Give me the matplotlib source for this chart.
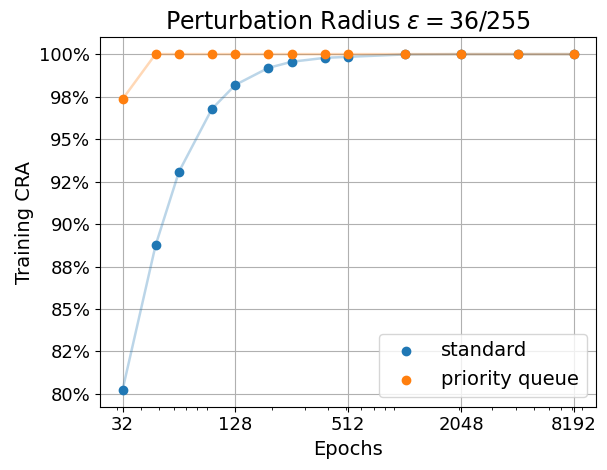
#!/usr/bin/env python3
# -*- coding: utf-8 -*-

import matplotlib
matplotlib.use('Agg')
import matplotlib.pyplot as plt
import matplotlib.ticker as ptick

# epochs (x) and training CRA (fraction)
epochs = [32, 48, 64, 96, 128, 192, 256, 384, 512, 1024, 2048, 4096, 8192]
cra_standard = [0.8024, 0.8874, 0.9308, 0.9678, 0.9819, 0.9919, 0.9955, 0.9978, 0.9984, 0.9998, 1.0, 1.0, 1.0]
cra_pq = [0.9735, 1.0, 1.0, 1.0, 1.0, 1.0, 1.0, 1.0, 1.0, 1.0, 1.0, 1.0, 1.0]
xtick_vals = [32, 128, 512, 2048, 8192]

series = [('standard', cra_standard, 'tab:blue'),
		  ('priority queue', cra_pq, 'tab:orange')]


def main():
	fig = plt.figure(figsize=(6.07, 4.70), dpi=100)
	ax1 = fig.add_subplot(1, 1, 1)
	fig.subplots_adjust(left=0.1647, right=0.9827, top=0.9206, bottom=0.1347)

	for lbl, vals, col in series:
		ax1.plot(epochs, vals, color=col, alpha=0.3, lw=1.8)
		ax1.scatter(epochs, vals, color=col, label=lbl, zorder=3)

	# log10 scale, majors replaced by fixed ticks (minor ticks stay)
	ax1.set_xscale('log')
	ax1.set_xticks(xtick_vals, [str(v) for v in xtick_vals])
	ax1.yaxis.set_major_locator(ptick.MultipleLocator(0.025))
	ax1.yaxis.set_major_formatter(ptick.PercentFormatter(xmax=1, decimals=0))
	ax1.tick_params(labelsize=13)
	ax1.grid(True)

	ax1.set_xlabel('Epochs', fontsize=14)
	ax1.set_ylabel('Training CRA', fontsize=14)
	ax1.set_title(r'Perturbation Radius $\epsilon = 36/255$', fontsize=17)
	ax1.legend(loc='lower right', fontsize=14)

	fig.savefig('out.png', dpi=100)


if __name__ == '__main__':
	main()
